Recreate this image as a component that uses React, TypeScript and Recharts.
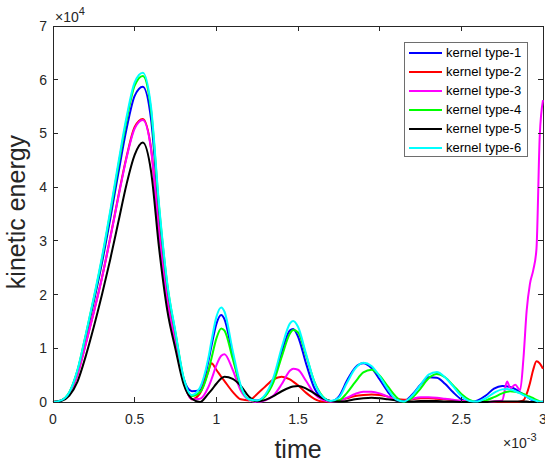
import React from "react";
import { LineChart, Line, XAxis, YAxis, Legend, ReferenceArea } from "recharts";

// time in units of 1e-3 s, kinetic energy in units of 1e4
const TIME = [
  0, 0.05, 0.1, 0.15, 0.2, 0.25, 0.3, 0.35, 0.4, 0.45,
  0.5, 0.55, 0.6, 0.65, 0.7, 0.75, 0.8, 0.85, 0.9, 0.95,
  0.97, 1.0, 1.03, 1.05, 1.1, 1.15, 1.2, 1.25, 1.3, 1.35,
  1.4, 1.45, 1.47, 1.5, 1.55, 1.6, 1.65, 1.7, 1.75, 1.8,
  1.85, 1.9, 1.95, 2.0, 2.05, 2.1, 2.15, 2.2, 2.25, 2.3,
  2.35, 2.4, 2.45, 2.5, 2.55, 2.6, 2.65, 2.7, 2.75, 2.78,
  2.8, 2.83, 2.86, 2.88, 2.9, 2.92, 2.94, 2.96, 2.98, 3.0,
];

const KERNEL_1 = [
  0, 0.03, 0.17, 0.57, 1.2, 1.87, 2.59, 3.4, 4.26, 5.08,
  5.7, 5.87, 5.27, 3.5, 2.1, 1.24, 0.43, 0.2, 0.22, 0.74,
  1.04, 1.45, 1.62, 1.54, 0.88, 0.27, 0.05, 0.03, 0.12, 0.41,
  0.93, 1.33, 1.36, 1.22, 0.71, 0.26, 0.06, 0.01, 0.1, 0.4,
  0.64, 0.72, 0.63, 0.42, 0.19, 0.03, 0.02, 0.14, 0.32, 0.46,
  0.45, 0.34, 0.18, 0.05, 0.0, 0.03, 0.12, 0.25, 0.3, 0.29,
  0.28, 0.24, 0.18, 0.14, 0.1, 0.06, 0.03, 0.01, 0.0, 0.01,
];

const KERNEL_2 = [
  0, 0.03, 0.15, 0.52, 1.08, 1.68, 2.32, 3.05, 3.83, 4.56,
  5.12, 5.27, 4.73, 3.14, 1.89, 1.11, 0.38, 0.05, 0.16, 0.56,
  0.72, 0.6, 0.47, 0.39, 0.19, 0.05, 0.03, 0.15, 0.29, 0.42,
  0.47, 0.42, 0.38, 0.31, 0.17, 0.06, 0.01, 0.01, 0.03, 0.07,
  0.11, 0.13, 0.14, 0.13, 0.1, 0.06, 0.04, 0.05, 0.07, 0.07,
  0.06, 0.05, 0.03, 0.02, 0.01, 0.0, 0.0, 0.0, 0.0, 0.0,
  0.0, 0.0, 0.01, 0.03, 0.15, 0.35, 0.6, 0.76, 0.72, 0.62,
];

const KERNEL_3 = [
  0, 0.03, 0.15, 0.51, 1.07, 1.67, 2.31, 3.04, 3.81, 4.54,
  5.09, 5.25, 4.71, 3.12, 1.88, 1.1, 0.38, 0.05, 0.06, 0.27,
  0.42, 0.68, 0.86, 0.89, 0.6, 0.21, 0.04, 0.0, 0.03, 0.12,
  0.33, 0.58, 0.62, 0.6, 0.39, 0.15, 0.04, 0.01, 0.02, 0.08,
  0.15, 0.19, 0.19, 0.16, 0.1, 0.04, 0.02, 0.06, 0.09, 0.09,
  0.08, 0.06, 0.04, 0.02, 0.01, 0.0, 0.0, 0.01, 0.03, 0.38,
  0.26, 0.32, 0.22, 0.8, 1.7, 2.2, 2.45, 2.85, 4.95, 5.62,
];

const KERNEL_4 = [
  0, 0.03, 0.18, 0.59, 1.24, 1.93, 2.67, 3.51, 4.4, 5.24,
  5.89, 6.07, 5.44, 3.61, 2.18, 1.28, 0.44, 0.11, 0.18, 0.56,
  0.81, 1.18, 1.37, 1.33, 0.81, 0.27, 0.05, 0.02, 0.11, 0.37,
  0.84, 1.27, 1.34, 1.3, 0.86, 0.38, 0.11, 0.02, 0.03, 0.17,
  0.37, 0.55, 0.6, 0.49, 0.29, 0.1, 0.0, 0.08, 0.25, 0.44,
  0.52, 0.46, 0.31, 0.15, 0.04, 0.0, 0.03, 0.09, 0.16, 0.19,
  0.2, 0.19, 0.17, 0.15, 0.12, 0.1, 0.07, 0.04, 0.01, 0,
];

const KERNEL_5 = [
  0, 0.02, 0.12, 0.38, 0.85, 1.4, 2.0, 2.65, 3.35, 4.05,
  4.6, 4.83, 4.3, 2.85, 1.7, 0.98, 0.33, 0.06, 0.0, 0.15,
  0.22, 0.34, 0.44, 0.47, 0.43, 0.3, 0.1, 0.01, 0.04, 0.11,
  0.2, 0.27, 0.29, 0.3, 0.25, 0.16, 0.07, 0.02, 0.01, 0.02,
  0.05, 0.07, 0.08, 0.07, 0.05, 0.03, 0.01, 0.01, 0.02, 0.02,
  0.02, 0.01, 0.01, 0.0, 0.0, 0.0, 0.0, 0.01, 0.01, 0.01,
  0.01, 0.01, 0.01, 0.01, 0.01, 0.0, 0.0, 0.0, 0.0, 0.0,
];

const KERNEL_6 = [
  0, 0.03, 0.18, 0.6, 1.25, 1.95, 2.7, 3.55, 4.45, 5.3,
  5.95, 6.13, 5.5, 3.65, 2.2, 1.3, 0.45, 0.13, 0.27, 0.8,
  1.13, 1.58, 1.76, 1.68, 0.96, 0.3, 0.05, 0.03, 0.14, 0.46,
  1.01, 1.46, 1.51, 1.4, 0.89, 0.37, 0.1, 0.02, 0.08, 0.36,
  0.62, 0.73, 0.67, 0.48, 0.24, 0.05, 0.01, 0.12, 0.32, 0.51,
  0.56, 0.46, 0.29, 0.11, 0.02, 0.01, 0.07, 0.17, 0.235, 0.24,
  0.23, 0.2, 0.16, 0.13, 0.095, 0.065, 0.04, 0.02, 0.005, 0,
];

const X_TICKS = [0, 0.5, 1, 1.5, 2, 2.5, 3];
const Y_TICKS = [0, 1, 2, 3, 4, 5, 6, 7];

const SERIES = [
  { key: "k1", name: "kernel type-1", color: "#0000ff", values: KERNEL_1 },
  { key: "k2", name: "kernel type-2", color: "#ff0000", values: KERNEL_2 },
  { key: "k3", name: "kernel type-3", color: "#ff00ff", values: KERNEL_3 },
  { key: "k4", name: "kernel type-4", color: "#00ff00", values: KERNEL_4 },
  { key: "k5", name: "kernel type-5", color: "#000000", values: KERNEL_5 },
  { key: "k6", name: "kernel type-6", color: "#00ffff", values: KERNEL_6 },
];

const data = TIME.map((t, i) => {
  const row: Record<string, number> = { t };
  SERIES.forEach((s) => (row[s.key] = s.values[i]));
  return row;
});

const AXIS = "#262626";
const FONT = "'Liberation Sans', Arial, Helvetica, sans-serif";
const TICK = 5;
// plot box edges in pixels (chart margins + axis sizes)
const PLOT_TOP = 26;
const PLOT_RIGHT = 543;

// inward ticks on the bottom and (mirrored) top edge
function BottomTick({ x, y, payload }: any) {
  return (
    <g>
      <path d={`M${x},${y}V${y - TICK}`} stroke={AXIS} strokeWidth={1} shapeRendering="crispEdges" />
      <path d={`M${x},${PLOT_TOP}V${PLOT_TOP + TICK}`} stroke={AXIS} strokeWidth={1} shapeRendering="crispEdges" />
      <text x={x} y={y + 22} textAnchor="middle" fill={AXIS} fontSize={14} fontFamily={FONT}>
        {payload.value}
      </text>
    </g>
  );
}

// inward ticks on the left and (mirrored) right edge
function LeftTick({ x, y, payload }: any) {
  return (
    <g>
      <path d={`M${x},${y}H${x + TICK}`} stroke={AXIS} strokeWidth={1} shapeRendering="crispEdges" />
      <path d={`M${PLOT_RIGHT},${y}H${PLOT_RIGHT - TICK}`} stroke={AXIS} strokeWidth={1} shapeRendering="crispEdges" />
      <text x={x - 6} y={y + 5} textAnchor="end" fill={AXIS} fontSize={14} fontFamily={FONT}>
        {payload.value}
      </text>
    </g>
  );
}

function TimeLabel({ viewBox }: any) {
  const cx = viewBox.x + viewBox.width / 2;
  return (
    <g>
      <text x={cx} y={458} textAnchor="middle" fill={AXIS} fontSize={25} fontFamily={FONT}>
        time
      </text>
      <text x={503} y={448} fill={AXIS} fontSize={14} fontFamily={FONT}>
        ×10
        <tspan fontSize={11} dy={-7}>-3</tspan>
      </text>
    </g>
  );
}

function EnergyLabel() {
  return (
    <g>
      <text
        x={25}
        y={212}
        transform="rotate(-90 25 212)"
        textAnchor="middle"
        fill={AXIS}
        fontSize={25}
        fontFamily={FONT}
      >
        kinetic energy
      </text>
      <text x={55} y={22} fill={AXIS} fontSize={14} fontFamily={FONT}>
        ×10
        <tspan fontSize={11} dy={-7}>4</tspan>
      </text>
    </g>
  );
}

function LegendBox() {
  return (
    <div
      style={{
        width: 124,
        height: 115,
        boxSizing: "border-box",
        border: "1px solid #6e6e6e",
        background: "#fff",
        fontFamily: FONT,
        fontSize: 13,
        color: "#000",
      }}
    >
      {SERIES.map((s) => (
        <div key={s.key} style={{ height: 19, display: "flex", alignItems: "center" }}>
          <div style={{ width: 33, height: 2, background: s.color, marginLeft: 4, marginRight: 4 }} />
          <span>{s.name}</span>
        </div>
      ))}
    </div>
  );
}

export default function App() {
  return (
    <div style={{ position: "absolute", left: 0, top: 0, background: "#fff" }}>
      <LineChart width={545} height={462} data={data} margin={{ top: PLOT_TOP, right: 545 - PLOT_RIGHT, bottom: 0, left: 0 }}>
        <XAxis
          dataKey="t"
          type="number"
          domain={[0, 3]}
          ticks={X_TICKS}
          interval={0}
          height={60}
          tickSize={0}
          tickMargin={0}
          tick={<BottomTick />}
          axisLine={false}
          label={<TimeLabel />}
        />
        <YAxis
          type="number"
          domain={[0, 7]}
          ticks={Y_TICKS}
          interval={0}
          width={53}
          tickSize={0}
          tickMargin={0}
          tick={<LeftTick />}
          axisLine={false}
          label={<EnergyLabel />}
        />
        <ReferenceArea
          x1={0}
          x2={3}
          y1={0}
          y2={7}
          fill="none"
          stroke={AXIS}
          strokeWidth={1}
          shapeRendering="crispEdges"
          ifOverflow="visible"
        />
        <Legend
          layout="vertical"
          align="center"
          verticalAlign="middle"
          wrapperStyle={{ left: 404, top: 42, width: 124 }}
          content={<LegendBox />}
        />
        {SERIES.map((s) => (
          <Line
            key={s.key}
            dataKey={s.key}
            name={s.name}
            stroke={s.color}
            strokeWidth={2}
            type="monotone"
            dot={false}
            activeDot={false}
            isAnimationActive={false}
          />
        ))}
      </LineChart>
    </div>
  );
}
